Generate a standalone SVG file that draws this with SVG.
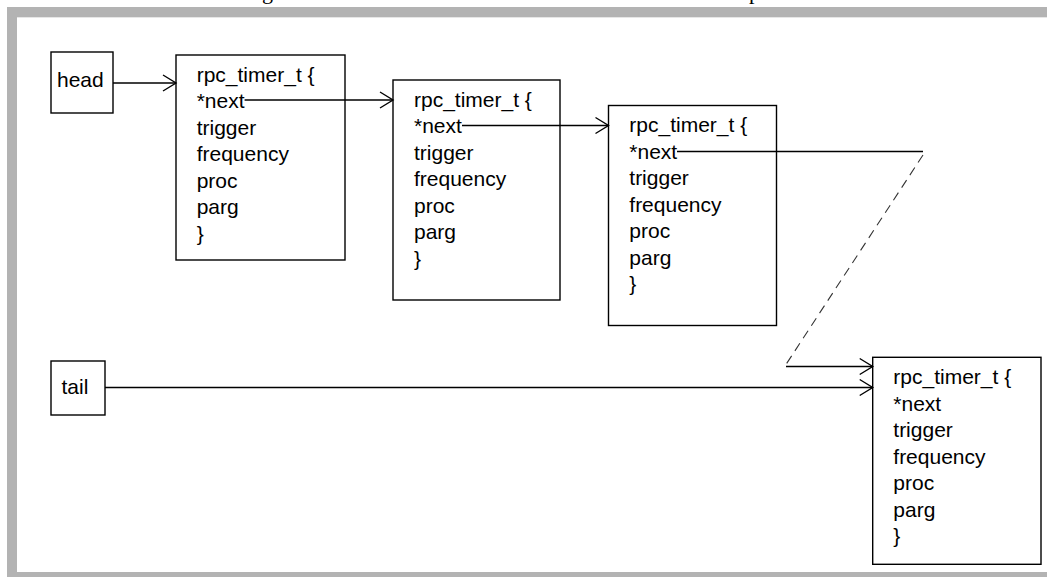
<svg xmlns="http://www.w3.org/2000/svg" width="1047" height="577" viewBox="0 0 1047 577">
<style>
.box{fill:#fff;stroke:#000;stroke-width:1.4}
.t{font-family:"Liberation Sans",Arial,sans-serif;font-size:21px;fill:#000}
.c{fill:none;stroke:#000;stroke-width:1.4}
.d{fill:none;stroke:#333;stroke-width:1.1;stroke-dasharray:9,6}
.frag{font-family:"Liberation Serif","Times New Roman",serif;font-size:22px;fill:#000}
</style>
<defs>
<marker id="arr" markerUnits="userSpaceOnUse" markerWidth="16" markerHeight="20" refX="14" refY="10" orient="auto">
<path d="M1,2 L14,10 L1,18" fill="none" stroke="#000" stroke-width="1.4"/>
</marker>
</defs>
<rect width="1047" height="577" fill="#fff"/>
<g id="frame">
<rect x="7" y="7" width="1040" height="10" fill="#b3b3b3"/>
<rect x="7" y="7" width="10" height="570" fill="#b3b3b3"/>
<rect x="7" y="572" width="1040" height="5" fill="#b3b3b3"/>
<rect x="17" y="17" width="1030" height="1" fill="#e6e6e6"/>
</g>
<text class="frag" x="262" y="-1">g</text>
<text class="frag" x="749" y="-1">p</text>
<g id="head">
<rect class="box" x="51" y="52" width="62" height="61"/>
<text class="t" x="57" y="87">head</text>
</g>
<g id="tail">
<rect class="box" x="51" y="361" width="54" height="54"/>
<text class="t" x="61.5" y="393.5">tail</text>
</g>
<g id="timer1">
<rect class="box" x="176" y="55" width="169" height="205"/>
<text class="t" x="196.7" y="81.7">rpc_timer_t {</text>
<text class="t" x="196.7" y="108.2">*next</text>
<text class="t" x="196.7" y="134.7">trigger</text>
<text class="t" x="196.7" y="161.2">frequency</text>
<text class="t" x="196.7" y="187.7">proc</text>
<text class="t" x="196.7" y="214.2">parg</text>
<text class="t" x="196.7" y="240.7">}</text>
</g>
<g id="timer2">
<rect class="box" x="393" y="80" width="167" height="220"/>
<text class="t" x="414" y="106.7">rpc_timer_t {</text>
<text class="t" x="414" y="133.2">*next</text>
<text class="t" x="414" y="159.7">trigger</text>
<text class="t" x="414" y="186.2">frequency</text>
<text class="t" x="414" y="212.7">proc</text>
<text class="t" x="414" y="239.2">parg</text>
<text class="t" x="414" y="265.7">}</text>
</g>
<g id="timer3">
<rect class="box" x="608.5" y="105.5" width="168" height="220"/>
<text class="t" x="629.3" y="132.4">rpc_timer_t {</text>
<text class="t" x="629.3" y="158.9">*next</text>
<text class="t" x="629.3" y="185.4">trigger</text>
<text class="t" x="629.3" y="211.9">frequency</text>
<text class="t" x="629.3" y="238.4">proc</text>
<text class="t" x="629.3" y="264.9">parg</text>
<text class="t" x="629.3" y="291.4">}</text>
</g>
<g id="timer4">
<rect class="box" x="872.7" y="357.3" width="168.3" height="207"/>
<text class="t" x="893.3" y="384">rpc_timer_t {</text>
<text class="t" x="893.3" y="410.5">*next</text>
<text class="t" x="893.3" y="437">trigger</text>
<text class="t" x="893.3" y="463.5">frequency</text>
<text class="t" x="893.3" y="490">proc</text>
<text class="t" x="893.3" y="516.5">parg</text>
<text class="t" x="893.3" y="543">}</text>
</g>
<g id="connectors">
<line class="c" x1="113" y1="83" x2="176" y2="83" marker-end="url(#arr)"/>
<line class="c" x1="244.6" y1="100" x2="393" y2="100" marker-end="url(#arr)"/>
<line class="c" x1="462" y1="125.5" x2="608.5" y2="125.5" marker-end="url(#arr)"/>
<line class="c" x1="677" y1="151.5" x2="923" y2="151.5"/>
<line class="d" x1="923" y1="155" x2="785" y2="366"/>
<line class="c" x1="786" y1="366.5" x2="872.7" y2="366.5" marker-end="url(#arr)"/>
<line class="c" x1="105" y1="387.5" x2="872.7" y2="387.5" marker-end="url(#arr)"/>
</g>
</svg>
